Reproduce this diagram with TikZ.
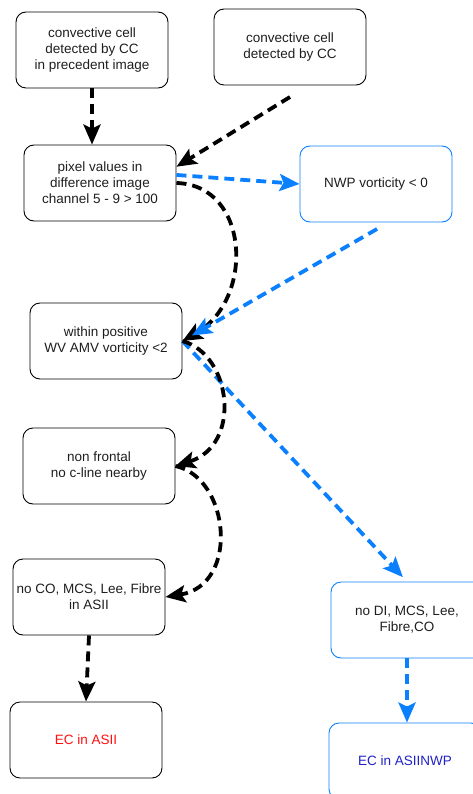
\documentclass[tikz,border=0pt]{standalone}
\usepackage{fontspec}
\setmainfont{Liberation Sans}
\usetikzlibrary{arrows.meta, positioning}
\definecolor{mBlue}{HTML}{0A80FF}
\definecolor{mRed}{HTML}{FF1010}
\definecolor{mDarkBlue}{HTML}{2020C8}
\definecolor{mText}{HTML}{1E1E1E}

\tikzset{
  box/.style={draw=black, line width=0.9pt, rounded corners=10pt,
    minimum width=152pt, minimum height=76pt, inner sep=0pt,
    align=center, text=mText, font=\fontsize{13.5}{16}\selectfont},
  bluebox/.style={box, draw=mBlue},
  flow/.style={line width=3.8pt, dash pattern=on 10pt off 6pt,
    -{Stealth[length=20pt, width=17pt, inset=4pt]}},
  blackflow/.style={flow, draw=black},
  blueflow/.style={flow, draw=mBlue},
}

\begin{document}
\begin{tikzpicture}[x=1pt, y=-1pt]
    \useasboundingbox (0,0) rectangle (472,794);
    % left column
    \node[box] (cellPrev) at (92,50) {convective cell\\detected by CC\\in precedent image};
    \node[box] (pixDiff) at (100,183) {pixel values in\\difference image\\channel 5 - 9 > 100};
    \node[box] (amvVort) at (106,341) {within positive\\WV AMV vorticity <2};
    \node[box] (nonFront) at (99,466) {non frontal\\no c-line nearby};
    \node[box] (noCO) at (89,597) {no CO, MCS, Lee, Fibre\\in ASII};
    \node[box, text=mRed] (ecAsii) at (86,740) {EC in ASII};
    % right column
    \node[box] (cellNow) at (290,47) {convective cell\\detected by CC};
    \node[bluebox] (nwpVort) at (376,184) {NWP vorticity < 0};
    \node[bluebox] (noDI) at (407,620) {no DI, MCS, Lee,\\Fibre,CO};
    \node[bluebox, text=mDarkBlue] (ecNwp) at (405,761) {EC in ASIINWP};
    \coordinate (cellNowFoot) at (290,97);
    \coordinate (nwpFoot) at (377,229);

    \draw[blackflow] (cellPrev.south) -- (cellPrev.south |- pixDiff.north);
    \draw[blackflow] (cellNowFoot) -- (pixDiff.12);
    \draw[blueflow] (pixDiff.6) -- (nwpVort.west);
    \draw[blackflow] (pixDiff.east) .. controls (250,185) and (255,300) .. (amvVort.east);
    \draw[blueflow, shorten >=11pt] (nwpFoot) -- (amvVort.east);
    \draw[blueflow, shorten >=6pt] (amvVort.east) -- (noDI.north);
    \draw[blackflow] (amvVort.east) .. controls (232,355) and (242,445) .. (nonFront.east);
    \draw[blackflow] (nonFront.east) .. controls (230,478) and (240,585) .. (noCO.east);
    \draw[blackflow] (noCO.south) -- (ecAsii.north);
    \draw[blueflow] (noDI.south) -- (noDI.south |- ecNwp.north);
  \end{tikzpicture}
\end{document}
